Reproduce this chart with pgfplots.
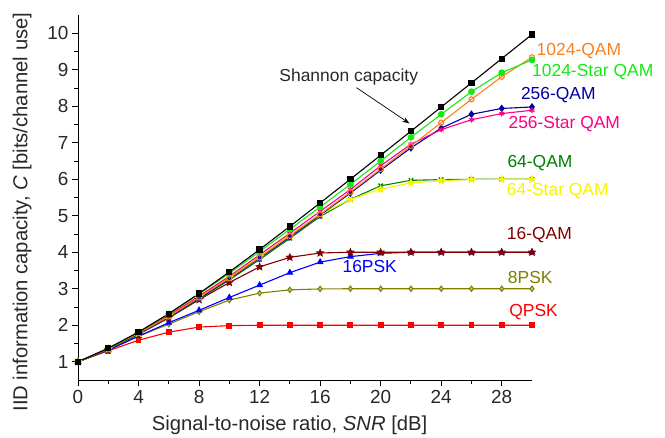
\documentclass[border=0pt]{standalone}
\usepackage{fontspec}
\setmainfont{Liberation Sans}
\usepackage{pgfplots}
\pgfplotsset{compat=1.18}
\usetikzlibrary{arrows.meta}

\definecolor{cOrange}{RGB}{250,128,30}
\definecolor{cLime}{RGB}{20,235,20}
\definecolor{cNavy}{RGB}{0,0,160}
\definecolor{cPink}{RGB}{255,0,128}
\definecolor{cDkGreen}{RGB}{0,128,0}
\definecolor{cYellow}{RGB}{245,245,0}
\definecolor{cMaroon}{RGB}{128,0,0}
\definecolor{cBlue}{RGB}{0,0,255}
\definecolor{cOlive}{RGB}{128,128,0}
\definecolor{cRed}{RGB}{255,0,0}
\definecolor{txt}{RGB}{40,40,40}

% filled five-point star
\pgfdeclareplotmark{fstar}{%
  \pgfpathmoveto{\pgfpointpolar{90}{\pgfplotmarksize}}%
  \pgfpathlineto{\pgfpointpolar{126}{0.45\pgfplotmarksize}}%
  \pgfpathlineto{\pgfpointpolar{162}{\pgfplotmarksize}}%
  \pgfpathlineto{\pgfpointpolar{198}{0.45\pgfplotmarksize}}%
  \pgfpathlineto{\pgfpointpolar{234}{\pgfplotmarksize}}%
  \pgfpathlineto{\pgfpointpolar{270}{0.45\pgfplotmarksize}}%
  \pgfpathlineto{\pgfpointpolar{306}{\pgfplotmarksize}}%
  \pgfpathlineto{\pgfpointpolar{342}{0.45\pgfplotmarksize}}%
  \pgfpathlineto{\pgfpointpolar{18}{\pgfplotmarksize}}%
  \pgfpathlineto{\pgfpointpolar{54}{0.45\pgfplotmarksize}}%
  \pgfpathclose
  \pgfusepathqfillstroke}

\begin{document}
\begin{tikzpicture}
\useasboundingbox (-78bp,-58bp) rectangle (587bp,380bp);
\begin{axis}[
  scale only axis, width=454bp, height=365bp,
  xmin=0, xmax=30, ymin=0.5, ymax=10.5,
  axis x line*=bottom, axis y line*=left,
  axis line style={-, line width=0.9pt, black},
  xtick={0,4,...,28}, ytick={1,2,...,10},
  minor x tick num=1, minor y tick num=1,
  tick align=outside, major tick length=6bp, minor tick length=3.5bp,
  tick style={line width=0.9pt, black},
  /pgf/number format/assume math mode=true,
  ticklabel style={font=\fontsize{19}{21}\selectfont, text=txt},
  xticklabel style={yshift=-1bp},
  xlabel={Signal-to-noise ratio, \textit{SNR} [dB]},
  ylabel={IID information capacity, \textit{C} [bits/channel use]},
  label style={font=\fontsize{20.3}{22}\selectfont, text=txt},
  xlabel style={at={(axis description cs:0.466,-0.125)}, anchor=center},
  ylabel style={at={(axis description cs:-0.123,0.46)}, anchor=center, rotate=0},
  every axis plot/.append style={line width=1.1pt, mark size=2.6bp},
  clip=false,
]
% QPSK
\addplot[cRed, mark=square*, mark size=2.4bp] table {
0 1
2 1.30
4 1.59
6 1.81
8 1.95
10 1.99
12 2
14 2
16 2
18 2
20 2
22 2
24 2
26 2
28 2
30 2
};
% 8PSK
\addplot[cOlive, mark=diamond*, mark options={fill=cOlive!40}] table {
0 1
2 1.32
4 1.70
6 2.03
8 2.37
10 2.69
12 2.88
14 2.97
16 2.995
18 3
20 3
22 3
24 3
26 3
28 3
30 3
};
% 16PSK
\addplot[cBlue, mark=triangle*, mark size=3bp] table {
0 1
2 1.32
4 1.70
6 2.07
8 2.41
10 2.76
12 3.10
14 3.44
16 3.73
18 3.88
20 3.97
22 4
24 4
26 4
28 4
30 4
};
% 16-QAM
\addplot[cMaroon, mark=fstar, mark size=3.3bp] table {
0 1
2 1.34
4 1.75
6 2.20
8 2.70
10 3.17
12 3.60
14 3.86
16 3.98
18 4.0
20 4.0
22 4.0
24 4.0
26 4.0
28 4.0
30 4.0
};
% 64-QAM
\addplot[cDkGreen, mark=x, mark size=3bp, mark options={line width=1.4pt}] table {
0 1
2 1.35
4 1.76
6 2.22
8 2.72
10 3.24
12 3.80
14 4.38
16 4.98
18 5.45
20 5.82
22 5.97
24 5.99
26 6
28 6
30 6
};
% 64-Star QAM
\addplot[cYellow, mark=fstar, mark size=3.3bp] table {
0 1
2 1.35
4 1.78
6 2.26
8 2.78
10 3.31
12 3.88
14 4.47
16 5.04
18 5.45
20 5.73
22 5.90
24 5.96
26 5.99
28 6
30 6
};
% 256-QAM
\addplot[cNavy, mark=diamond*, mark size=3bp] table {
0 1
2 1.35
4 1.77
6 2.23
8 2.74
10 3.27
12 3.84
14 4.42
16 5.02
18 5.62
20 6.25
22 6.86
24 7.40
26 7.78
28 7.94
30 7.98
};
% 256-Star QAM
\addplot[cPink, mark=asterisk, mark size=2.8bp] table {
0 1
2 1.36
4 1.79
6 2.27
8 2.80
10 3.34
12 3.93
14 4.52
16 5.12
18 5.72
20 6.37
22 6.96
24 7.36
26 7.63
28 7.80
30 7.89
};
% 1024-QAM
\addplot[cOrange, mark=o, mark size=2.6bp] table {
0 1
2 1.36
4 1.78
6 2.24
8 2.76
10 3.29
12 3.86
14 4.45
16 5.04
18 5.65
20 6.28
22 6.91
24 7.55
26 8.19
28 8.81
30 9.34
};
% 1024-Star QAM
\addplot[cLime, mark=*, mark size=2.8bp] table {
0 1
2 1.37
4 1.81
6 2.31
8 2.86
10 3.42
12 4.02
14 4.63
16 5.24
18 5.86
20 6.50
22 7.15
24 7.78
26 8.40
28 8.92
30 9.27
};
% Shannon capacity
\addplot[black, mark=square*, mark size=2.6bp] table {
0 1.000
2 1.370
4 1.812
6 2.317
8 2.870
10 3.459
12 4.075
14 4.707
16 5.351
18 6.002
20 6.658
22 7.317
24 7.978
26 8.640
28 9.304
30 9.967
};

\begin{scope}[every node/.style={font=\fontsize{17.5}{19}\selectfont, anchor=west, inner sep=0pt}]
\node[text=cOrange] at (axis cs:30.3,9.50) {1024-QAM};
\node[text=cLime] at (axis cs:30.0,8.95) {1024-Star QAM};
\node[text=cNavy] at (axis cs:29.26,8.31) {256-QAM};
\node[text=cPink] at (axis cs:28.44,7.50) {256-Star QAM};
\node[text=cDkGreen] at (axis cs:28.37,6.45) {64-QAM};
\node[text=cYellow] at (axis cs:28.33,5.68) {64-Star QAM};
\node[text=cMaroon] at (axis cs:28.33,4.48) {16-QAM};
\node[text=cBlue] at (axis cs:17.47,3.60) {16PSK};
\node[text=cOlive] at (axis cs:28.4,3.31) {8PSK};
\node[text=cRed] at (axis cs:28.49,2.35) {QPSK};
\node[text=txt] at (axis cs:13.3,8.81) {Shannon capacity};
\end{scope}
\draw[-{Stealth[length=7bp,width=5bp]}, line width=0.7pt] (axis cs:18.4,8.51) -- (axis cs:21.9,7.53);
\end{axis}
\end{tikzpicture}
\end{document}
